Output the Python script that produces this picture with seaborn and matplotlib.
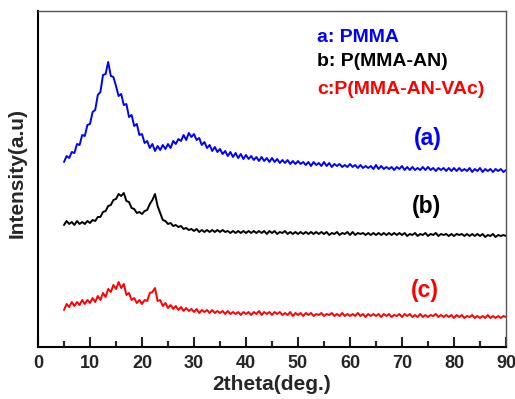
import numpy as np
import pandas as pd
import matplotlib
matplotlib.use("Agg")
import matplotlib.pyplot as plt
from matplotlib.ticker import MultipleLocator
import seaborn as sns

# 2theta grid: 5.0 .. 90.0 in 0.5 steps (171 points)
two_theta = np.arange(5.0, 90.25, 0.5)

# intensities (arbitrary units, stacked offsets included)
pmma = [
    185, 191, 189, 195, 194, 203, 202, 212, 211, 222,   # 5.0-9.5
    223, 235, 237, 252, 255, 272, 273, 285, 271, 270,   # 10-14.5
    261, 251, 253, 242, 243, 230, 232, 221, 223, 212,   # 15-19.5
    213, 204, 206, 199, 203, 196, 201, 197, 202, 198,   # 20-24.5
    203, 199, 206, 203, 208, 206, 212, 207, 214, 210,   # 25-29.5
    213, 207, 209, 202, 205, 199, 202, 196, 200, 195,   # 30-34.5
    198, 193, 196, 191, 195, 190, 194, 189, 193, 188,   # 35-39.5
    192, 188, 191, 187, 190, 186, 190, 186, 189, 185,   # 40-44.5
    189, 185, 188, 184, 187, 184, 187, 183, 186, 183,   # 45-49.5
    186, 183, 185, 182, 185, 181, 185, 182, 184, 181,   # 50-54.5
    185, 181, 184, 180, 183, 181, 183, 180, 182, 180,   # 55-59.5
    183, 180, 182, 179, 182, 179, 181, 179, 181, 178,   # 60-64.5
    182, 178, 181, 178, 180, 178, 180, 177, 180, 178,   # 65-69.5
    181, 177, 180, 177, 180, 177, 179, 177, 180, 177,   # 70-74.5
    180, 177, 179, 176, 179, 177, 179, 176, 179, 176,   # 75-79.5
    179, 176, 179, 176, 178, 176, 179, 175, 178, 176,   # 80-84.5
    179, 175, 178, 176, 178, 175, 178, 176, 178, 175,   # 85-89.5
    177,                                                # 90
]

p_mma_an = [
    122, 126, 123, 125, 122, 126, 123, 125, 123, 126,
    124, 127, 126, 130, 130, 135, 136, 141, 142, 147,
    148, 153, 151, 154, 146, 145, 139, 138, 134, 135,
    133, 136, 137, 143, 147, 153, 141, 134, 127, 126,
    123, 124, 121, 122, 120, 121, 118, 119, 117, 118,
    116, 118, 115, 117, 115, 117, 115, 117, 115, 117,
    115, 117, 115, 116, 114, 116, 114, 116, 114, 116,
    114, 116, 114, 116, 114, 116, 114, 116, 113, 116,
    114, 116, 113, 115, 114, 116, 113, 115, 113, 115,
    113, 115, 113, 115, 113, 115, 113, 115, 113, 115,
    113, 115, 112, 114, 113, 115, 112, 114, 113, 115,
    112, 115, 112, 114, 113, 114, 112, 114, 112, 114,
    112, 114, 112, 114, 112, 114, 112, 114, 112, 114,
    112, 114, 111, 113, 112, 114, 111, 113, 112, 114,
    111, 113, 112, 114, 111, 113, 112, 113, 111, 113,
    111, 113, 112, 113, 111, 113, 111, 113, 111, 113,
    111, 113, 110, 112, 111, 113, 110, 112, 111, 112,
    111,
]

p_mma_an_vac = [
    37, 43, 40, 45, 41, 45, 42, 47, 43, 47,
    44, 49, 45, 51, 47, 54, 50, 58, 55, 62,
    58, 65, 59, 63, 52, 54, 47, 49, 44, 47,
    43, 47, 46, 54, 55, 59, 46, 47, 41, 44,
    39, 42, 38, 41, 37, 40, 36, 39, 36, 38,
    35, 38, 34, 37, 35, 37, 34, 37, 34, 36,
    34, 36, 33, 36, 33, 35, 33, 35, 32, 35,
    33, 35, 32, 35, 33, 36, 32, 35, 33, 35,
    32, 35, 33, 35, 32, 34, 32, 35, 31, 34,
    32, 34, 31, 34, 32, 34, 31, 33, 32, 34,
    31, 33, 32, 34, 31, 33, 31, 34, 31, 33,
    31, 33, 31, 34, 31, 33, 30, 33, 31, 33,
    31, 33, 30, 33, 31, 33, 30, 32, 31, 33,
    30, 33, 31, 33, 30, 32, 30, 33, 30, 32,
    30, 32, 31, 33, 30, 32, 30, 32, 30, 32,
    29, 32, 30, 32, 29, 31, 30, 32, 29, 31,
    29, 31, 29, 32, 29, 31, 29, 31, 29, 31,
    30,
]

series_names = ["a", "b", "c"]
legend_labels = ["a: PMMA", "b: P(MMA-AN)", "c:P(MMA-AN-VAc)"]
curve_tags = ["(a)", "(b)", "(c)"]
colors = ["#0000ff", "#000000", "#ff0000"]
x_ticks = [0, 10, 20, 30, 40, 50, 60, 70, 80, 90]

df = pd.DataFrame({
    "2theta": np.concatenate([two_theta] * 3),
    "intensity": np.concatenate([pmma, p_mma_an, p_mma_an_vac]),
    "sample": np.repeat(series_names, len(two_theta)),
})

sns.set_style("ticks")
plt.rcParams["font.family"] = ["Liberation Sans", "DejaVu Sans"]
plt.rcParams["font.weight"] = "bold"

fig = plt.figure(figsize=(5.15, 3.99), dpi=100)
ax = fig.add_axes([38 / 515, 52 / 399, 468 / 515, 336 / 399])

sns.lineplot(data=df, x="2theta", y="intensity", hue="sample",
             palette=dict(zip(series_names, colors)), linewidth=1.4,
             legend=False, ax=ax, estimator=None, sort=False)

ax.set_xlim(0, 90)
ax.set_ylim(0, 336)
ax.set_xticks(x_ticks)
ax.set_xticklabels([str(t) for t in x_ticks], fontsize=13, fontweight="bold")
ax.xaxis.set_minor_locator(MultipleLocator(5))
ax.tick_params(axis="x", which="major", direction="in", length=7, width=1.5, pad=6)
ax.tick_params(axis="x", which="minor", direction="in", length=4, width=1.5)
ax.set_yticks([])
for s in ax.spines.values():
    s.set_linewidth(1.5)
    s.set_color("black")
ax.spines["top"].set_linewidth(1.0)
ax.spines["right"].set_linewidth(1.0)
ax.spines["top"].set_color("#555555")
ax.spines["right"].set_color("#555555")

ax.set_xlabel("2theta(deg.)", fontsize=15, fontweight="bold")
ax.xaxis.set_label_coords(0.5, -0.082)
ax.set_ylabel("Intensity(a.u)", fontsize=15, fontweight="bold")
ax.yaxis.set_label_coords(-0.024, 0.518)

legend_y = [310, 285, 257]
for lab, c, yy in zip(legend_labels, colors, legend_y):
    ax.text(53.7, yy, lab, color=c, fontsize=14, fontweight="bold",
            ha="left", va="center")

tag_pos = [(75.0, 209), (74.8, 140), (74.4, 57)]
for tag, c, (xx, yy) in zip(curve_tags, colors, tag_pos):
    ax.text(xx, yy, tag, color=c, fontsize=16.5, fontweight="bold",
            ha="center", va="center")

fig.savefig("out.png", dpi=100)
